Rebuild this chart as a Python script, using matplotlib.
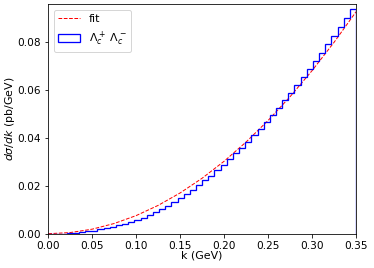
import matplotlib
matplotlib.use('Agg')
import matplotlib.pyplot as plt
import numpy as np

# histogram contents, 50 bins between 0 and 0.35 GeV
k_min, k_max, n_bins = 0.0, 0.35, 50
hist_values = [
    0.00000, 0.00000, 0.00004, 0.00014, 0.00032, 0.00059, 0.00092, 0.00131, 0.00175, 0.00225,
    0.00281, 0.00345, 0.00413, 0.00488, 0.00571, 0.00666, 0.00776, 0.00895, 0.01026, 0.01169,
    0.01323, 0.01482, 0.01651, 0.01832, 0.02025, 0.02218, 0.02422, 0.02636, 0.02862, 0.03099,
    0.03348, 0.03589, 0.03841, 0.04102, 0.04372, 0.04653, 0.04944, 0.05245, 0.05556, 0.05866,
    0.06185, 0.06514, 0.06852, 0.07192, 0.07542, 0.07892, 0.08251, 0.08618, 0.08994, 0.09368,
]

# fit curve
fit_k = [0.0, 0.025, 0.05, 0.075, 0.1, 0.125, 0.15, 0.175, 0.2, 0.225, 0.25, 0.275, 0.3, 0.325, 0.35]
fit_y = [0.0, 0.00047, 0.00189, 0.00425, 0.00755, 0.0118, 0.01699, 0.02312, 0.0302, 0.03822,
         0.04719, 0.0571, 0.06795, 0.07975, 0.09249]

edges = np.linspace(k_min, k_max, n_bins + 1)
centers = 0.5 * (edges[:-1] + edges[1:])

fig = plt.figure(figsize=(374 / 72, 268 / 72), dpi=72)
ax = fig.add_axes([0.129, 0.128, 0.823, 0.856])

ax.plot(fit_k, fit_y, 'r--', linewidth=1.0, label='fit')
ax.hist(centers, bins=edges, weights=hist_values, histtype='step',
        color='blue', linewidth=1.3, label=r'$\Lambda_c^+$ $\Lambda_c^-$')

ax.set_xlim(0, 0.35)
ax.set_ylim(0, 0.0956)
ax.set_xticks([0.0, 0.05, 0.10, 0.15, 0.20, 0.25, 0.30, 0.35])
ax.set_yticks([0.0, 0.02, 0.04, 0.06, 0.08])
ax.tick_params(labelsize=10.5)
ax.set_xlabel('k (GeV)', fontsize=11, labelpad=0)
ax.set_ylabel(r'$d\sigma/dk$ (pb/GeV)', fontsize=11, labelpad=1)
ax.legend(loc='upper left', fontsize=11)

plt.savefig('out.png', dpi=72)
